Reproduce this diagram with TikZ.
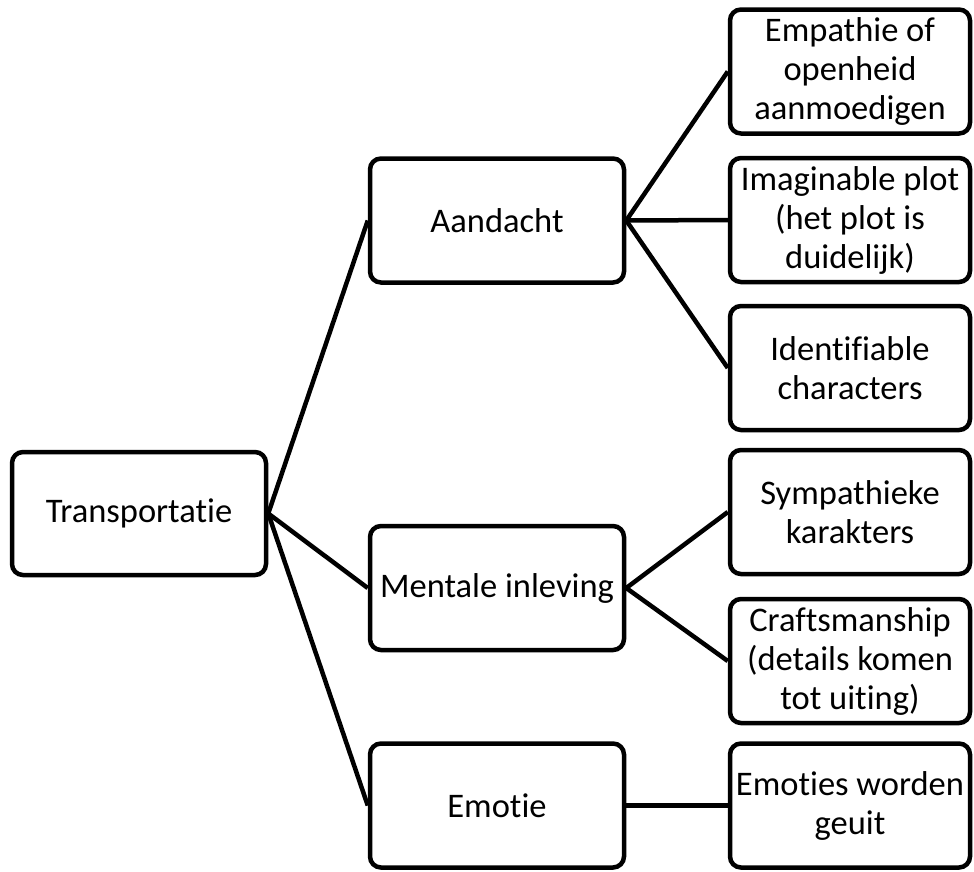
\documentclass[tikz,border=0pt]{standalone}
\usepackage{fontspec}
\setmainfont{Carlito}[Ligatures=NoCommon, RawFeature=-liga]
\begin{document}
\begin{tikzpicture}[x=1pt,y=-1pt,
  box/.style={draw=black, line width=4.5pt, rounded corners=11pt, fill=white,
    align=center, inner sep=2pt, minimum height=124pt,
    font=\fontsize{34.5}{39}\selectfont},
  lbox/.style={box, minimum width=254pt},
  rbox/.style={box, minimum width=240pt},
  link/.style={line width=4.5pt, line join=round}]
\useasboundingbox (0,0) rectangle (974,871);
\node[lbox, minimum height=123pt] (t) at (139,513.5) {Transportatie};
\node[lbox] (a) at (497,220.5) {Aandacht};
\node[lbox] (m) at (497,588) {Mentale inleving};
\node[lbox] (e) at (497,805.5) {Emotie};
\node[rbox] (r1) at (850,71.5) {Empathie of\\openheid\\aanmoedigen};
\node[rbox] (r2) at (850,220) {Imaginable plot\\(het plot is\\duidelijk)};
\node[rbox] (r3) at (850,368) {Identifiable\\characters};
\node[rbox] (r4) at (850,512) {Sympathieke\\karakters};
\node[rbox] (r5) at (850,661) {Craftsmanship\\(details komen\\tot uiting)};
\node[rbox] (r6) at (850,805.5) {Emoties worden\\geuit};
\draw[link] (t.east) -- (a.west);
\draw[link] (t.east) -- (m.west);
\draw[link] (t.east) -- (e.west);
\draw[link] (a.east) -- (r1.west);
\draw[link] (a.east) -- (r2.west);
\draw[link] (a.east) -- (r3.west);
\draw[link] (m.east) -- (r4.west);
\draw[link] (m.east) -- (r5.west);
\draw[link] (e.east) -- (r6.west);
\end{tikzpicture}
\end{document}
